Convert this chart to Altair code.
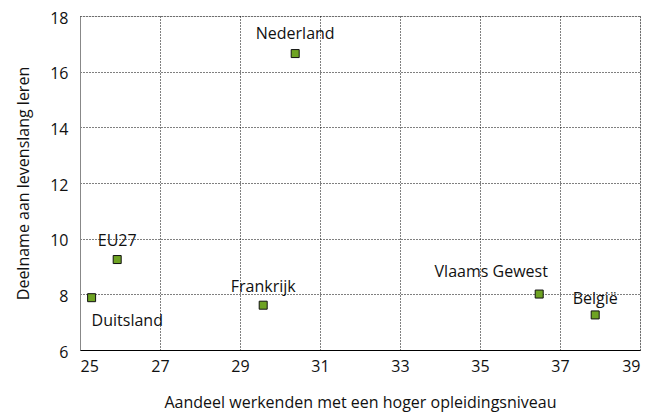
import altair as alt
import pandas as pd

countries = ["Nederland", "EU27", "Duitsland", "Frankrijk", "Vlaams Gewest", "België"]
hoger_opgeleid = [30.38, 25.93, 25.29, 29.58, 36.48, 37.88]
levenslang_leren = [16.65, 9.25, 7.88, 7.61, 8.01, 7.26]
x_ticks = [25, 27, 29, 31, 33, 35, 37, 39]
y_ticks = [6, 8, 10, 12, 14, 16, 18]

df = pd.DataFrame({"land": countries, "x": hoger_opgeleid, "y": levenslang_leren})

FONT = "Open Sans"
FS = 16
xenc = alt.X("x:Q", scale=alt.Scale(domain=[25, 39], nice=False, zero=False),
             axis=alt.Axis(values=x_ticks, title="Aandeel werkenden met een hoger opleidingsniveau",
                           grid=True, gridColor="#000", gridDash=[1, 2], gridWidth=1,
                           domainColor="#000", ticks=False, labelPadding=8,
                           labelFontSize=FS, titleFontSize=FS, titleFontWeight="normal",
                           labelFont=FONT, titleFont=FONT, titlePadding=20, labelColor="#111", titleColor="#111"))
yenc = alt.Y("y:Q", scale=alt.Scale(domain=[6, 18], nice=False, zero=False),
             axis=alt.Axis(values=y_ticks, title="Deelname aan levenslang leren",
                           grid=True, gridColor="#000", gridDash=[1, 2], gridWidth=1,
                           domainColor="#888", ticks=False, labelPadding=12, labelOffset=2,
                           labelFontSize=FS, titleFontSize=FS, titleFontWeight="normal",
                           labelFont=FONT, titleFont=FONT, titlePadding=18, labelColor="#111", titleColor="#111"))

points = alt.Chart(df).mark_square(size=64, color="#6ea323", stroke="#111", strokeWidth=1, opacity=1).encode(
    x=xenc, y=yenc)

offsets = {
    "Nederland": (0, -20, "center"),
    "EU27": (0, -19, "center"),
    "Duitsland": (0, 23, "left"),
    "Frankrijk": (0, -18, "center"),
    "Vlaams Gewest": (-48, -22, "center"),
    "België": (0, -16, "center"),
}

layers = [points]
for name, (dx, dy, al) in offsets.items():
    layers.append(
        alt.Chart(df).transform_filter(alt.datum.land == name).mark_text(
            dx=dx, dy=dy, align=al, baseline="middle", font=FONT, fontSize=FS, color="#111"
        ).encode(x="x:Q", y="y:Q", text="land:N")
    )

chart = alt.layer(*layers).properties(
    width=560, height=334,
    autosize=alt.AutoSizeParams(type="none"),
    padding={"left": 72, "top": 8, "right": 3, "bottom": 64},
).configure_view(stroke=None).configure(background="white")

chart.save("out.html", embed_options={"renderer": "svg", "actions": False})
